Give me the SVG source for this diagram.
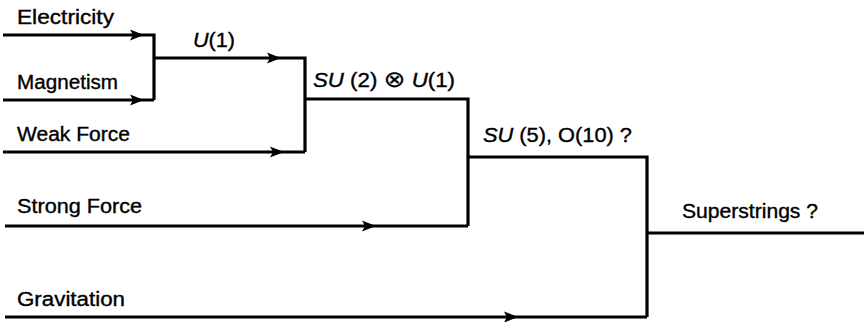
<svg xmlns="http://www.w3.org/2000/svg" xmlns:xlink="http://www.w3.org/1999/xlink" width="864" height="322" viewBox="0 0 864 322">
<style>
.ln{fill:none;stroke:#000;stroke-width:3.2;stroke-linejoin:miter;stroke-linecap:butt}
.t{font-family:"Liberation Sans","DejaVu Sans",Arial,sans-serif;font-size:19.5px;fill:#000;stroke:#000;stroke-width:0.35}
.i{font-style:italic}
.sym{font-family:"DejaVu Sans",sans-serif;font-style:normal;font-size:23px;stroke-width:0.2}
</style>
<defs>
<path id="ah" d="M0,0 L-14,-5.5 L-11,0 L-14,5.5 Z" fill="#000"/>
</defs>
<rect width="864" height="322" fill="#fff"/>
<g id="connectors">
<path class="ln" d="M3,35 H154 V100 M3,100 H154"/>
<path class="ln" d="M154,58 H305 V152 M3,152 H305"/>
<path class="ln" d="M305,99 H468 V226 M5,226 H468"/>
<path class="ln" d="M468,157 H647 V317 M5,317 H647"/>
<path class="ln" d="M647,233 H864"/>
<use xlink:href="#ah" x="144" y="35"/>
<use xlink:href="#ah" x="144" y="100"/>
<use xlink:href="#ah" x="281" y="58"/>
<use xlink:href="#ah" x="284" y="152"/>
<use xlink:href="#ah" x="376" y="226"/>
<use xlink:href="#ah" x="518" y="317"/>
</g>
<g id="electricity"><text class="t" x="17" y="24" textLength="97" lengthAdjust="spacingAndGlyphs">Electricity</text></g>
<g id="magnetism"><text class="t" x="17" y="89" textLength="101" lengthAdjust="spacingAndGlyphs">Magnetism</text></g>
<g id="weak"><text class="t" x="17" y="141" textLength="113" lengthAdjust="spacingAndGlyphs">Weak Force</text></g>
<g id="strong"><text class="t" x="17" y="213" textLength="125" lengthAdjust="spacingAndGlyphs">Strong Force</text></g>
<g id="gravitation"><text class="t" x="17" y="306" textLength="108" lengthAdjust="spacingAndGlyphs">Gravitation</text></g>
<g id="u1"><text class="t" x="193" y="47" textLength="42" lengthAdjust="spacingAndGlyphs"><tspan class="i">U</tspan>(1)</text></g>
<g id="su2u1"><text class="t" x="313" y="87" textLength="142" lengthAdjust="spacingAndGlyphs"><tspan class="i">SU</tspan> (2) <tspan class="sym">⊗</tspan> <tspan class="i">U</tspan>(1)</text></g>
<g id="su5"><text class="t" x="483" y="142" textLength="149" lengthAdjust="spacingAndGlyphs"><tspan class="i">SU</tspan> (5), O(10) ?</text></g>
<g id="superstrings"><text class="t" x="682" y="218" textLength="136" lengthAdjust="spacingAndGlyphs">Superstrings ?</text></g>
</svg>
